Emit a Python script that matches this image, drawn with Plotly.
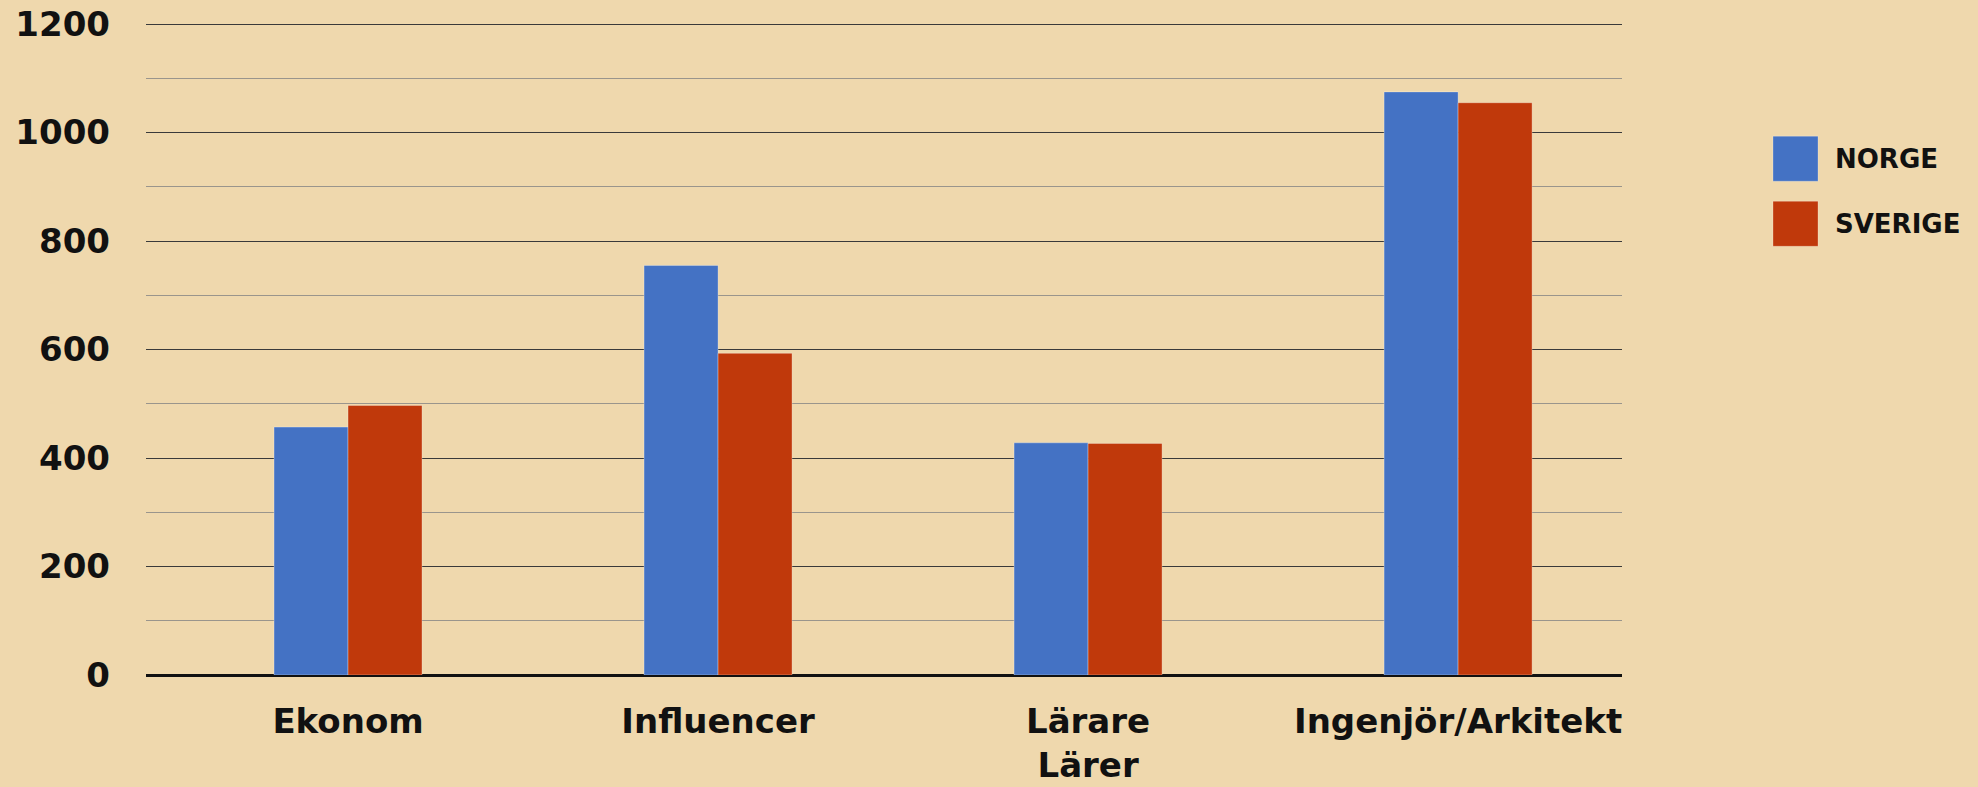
import plotly.graph_objects as go

categories = ["Ekonom", "Influencer", "Lärare<br>Lärer", "Ingenjör/Arkitekt"]
series_names = ["NORGE", "SVERIGE"]
norge = [457, 755, 428, 1075]
sverige = [497, 593, 427, 1055]
series_values = [norge, sverige]
series_colors = ["#4472C4", "#C0390B"]
y_ticks = [0, 200, 400, 600, 800, 1000, 1200]

FONT = "DejaVu Sans"
BG = "#EFD8AD"

fig = go.Figure()
for name, vals, col in zip(series_names, series_values, series_colors):
    fig.add_trace(go.Bar(
        x=categories, y=vals, name=name,
        marker=dict(color=col, line=dict(color="rgba(255,255,255,0.3)", width=1)),
        showlegend=False,
    ))

# custom large-square legend
sq_x0, sq_x1 = 1.1023, 1.1328
tops = [0.8264, 0.7266]
h = 0.0691
for i, (name, col) in enumerate(zip(series_names, series_colors)):
    fig.add_shape(type="rect", xref="paper", yref="paper",
                  x0=sq_x0, x1=sq_x1, y0=tops[i] - h, y1=tops[i],
                  fillcolor=col, line=dict(color="rgba(255,255,255,0.25)", width=1))
    fig.add_annotation(xref="paper", yref="paper", x=1.143, y=tops[i] - h / 2,
                       text=name, showarrow=False, xanchor="left", yanchor="middle",
                       font=dict(family=FONT, size=26, color="#111", weight="bold"))

fig.update_layout(
    width=1978, height=787,
    margin=dict(l=146, r=356, t=23, b=112),
    paper_bgcolor=BG, plot_bgcolor=BG,
    barmode="group", bargap=0.6, bargroupgap=0,
    font=dict(family=FONT, color="#111"),
)
fig.update_xaxes(
    type="category", range=[-0.546, 3.443], automargin=False,
    showgrid=False, showline=False, zeroline=False,
    ticks="", ticklabelstandoff=23,
    tickfont=dict(family=FONT, size=34, color="#111", weight="bold"),
)
fig.update_yaxes(
    range=[0, 1202], tickvals=y_ticks, automargin=False,
    showgrid=True, gridcolor="#3a3a3a", gridwidth=1.3,
    minor=dict(dtick=100, showgrid=True, gridcolor="#9a958c", gridwidth=1.2),
    zeroline=True, zerolinecolor="#111", zerolinewidth=3,
    showline=False, ticks="", ticklabelstandoff=35,
    tickfont=dict(family=FONT, size=34, color="#111", weight="bold"),
)

fig.write_html(
    "out.html",
    config={"displayModeBar": False},
    post_script="document.body.style.margin='0';document.body.style.background='%s';" % BG,
)
